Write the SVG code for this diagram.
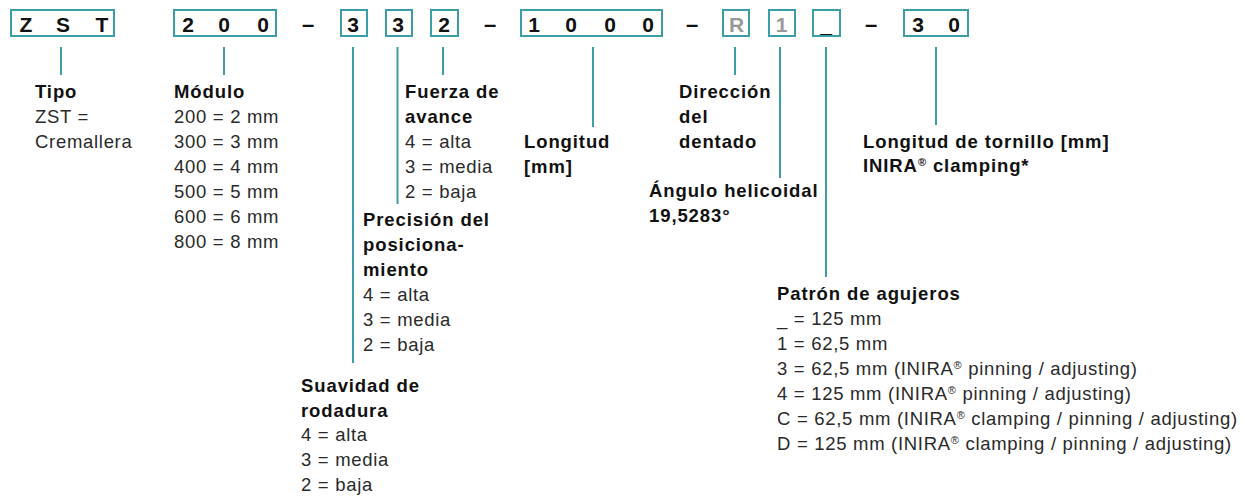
<svg xmlns="http://www.w3.org/2000/svg" width="1243" height="496" viewBox="0 0 1243 496">
<style>
.box{fill:none;stroke:#3c9ca7;stroke-width:2}
.bt{font-family:"Liberation Sans",Arial,sans-serif;font-weight:bold;font-size:21px;fill:#111;text-anchor:middle}
.grey{fill:#999}
.dash{font-size:22px}
.conn line{stroke:#3c9ca7;stroke-width:2}
.h{font-family:"Liberation Sans",Arial,sans-serif;font-weight:bold;font-size:18.5px;fill:#111;letter-spacing:0.9px}
.t{font-family:"Liberation Sans",Arial,sans-serif;font-size:18.5px;fill:#2a2a2a;letter-spacing:0.7px}
.sup{font-size:11px}
</style>
<rect width="1243" height="496" fill="#fff"/>
<g id="code">
  <g id="box-zst"><rect class="box" x="11" y="10" width="103" height="26"/>
    <text class="bt" x="26" y="32">Z</text><text class="bt" x="63" y="32">S</text><text class="bt" x="102" y="32">T</text></g>
  <g id="box-200"><rect class="box" x="174" y="10" width="102" height="26"/>
    <text class="bt" x="188" y="32">2</text><text class="bt" x="224" y="32">0</text><text class="bt" x="263" y="32">0</text></g>
  <text class="bt dash" x="308" y="32">–</text>
  <g id="box-3a"><rect class="box" x="341" y="10" width="26" height="26"/><text class="bt" x="353" y="32">3</text></g>
  <g id="box-3b"><rect class="box" x="386" y="10" width="26" height="26"/><text class="bt" x="398" y="32">3</text></g>
  <g id="box-2"><rect class="box" x="431" y="10" width="27" height="26"/><text class="bt" x="444" y="32">2</text></g>
  <text class="bt dash" x="490" y="32">–</text>
  <g id="box-1000"><rect class="box" x="521" y="10" width="141" height="26"/>
    <text class="bt" x="534" y="32">1</text><text class="bt" x="571" y="32">0</text><text class="bt" x="610" y="32">0</text><text class="bt" x="648" y="32">0</text></g>
  <text class="bt dash" x="692" y="32">–</text>
  <g id="box-r"><rect class="box" x="723" y="10" width="26" height="26"/><text class="bt grey" x="736.5" y="32">R</text></g>
  <g id="box-1"><rect class="box" x="769" y="10" width="26" height="26"/><text class="bt grey" x="781.5" y="32">1</text></g>
  <g id="box-us"><rect class="box" x="813" y="10" width="27" height="26"/><text class="bt" x="826" y="32">_</text></g>
  <text class="bt dash" x="871" y="32">–</text>
  <g id="box-30"><rect class="box" x="904" y="10" width="64" height="26"/>
    <text class="bt" x="918" y="32">3</text><text class="bt" x="954" y="32">0</text></g>
</g>
<g id="connectors" class="conn">
  <line x1="61" y1="47" x2="61" y2="75"/>
  <line x1="224" y1="47" x2="224" y2="75"/>
  <line x1="353" y1="47" x2="353" y2="363"/>
  <line x1="397.5" y1="47" x2="397.5" y2="204"/>
  <line x1="443" y1="47" x2="443" y2="75"/>
  <line x1="593" y1="47" x2="593" y2="127"/>
  <line x1="735" y1="47" x2="735" y2="75"/>
  <line x1="780" y1="47" x2="780" y2="178"/>
  <line x1="826" y1="47" x2="826" y2="277"/>
  <line x1="936" y1="47" x2="936" y2="125"/>
</g>
<g id="tipo">
  <text class="h" x="35" y="97.5">Tipo</text>
  <text class="t" x="35" y="122.5">ZST =</text>
  <text class="t" x="35" y="147.5">Cremallera</text>
</g>
<g id="modulo">
  <text class="h" x="174" y="97.5">Módulo</text>
  <text class="t" x="174" y="122.5">200 = 2 mm</text>
  <text class="t" x="174" y="147.5">300 = 3 mm</text>
  <text class="t" x="174" y="172.5">400 = 4 mm</text>
  <text class="t" x="174" y="197.5">500 = 5 mm</text>
  <text class="t" x="174" y="222.5">600 = 6 mm</text>
  <text class="t" x="174" y="247.5">800 = 8 mm</text>
</g>
<g id="fuerza">
  <text class="h" x="405" y="97.5">Fuerza de</text>
  <text class="h" x="405" y="122.5">avance</text>
  <text class="t" x="405" y="147.5">4 = alta</text>
  <text class="t" x="405" y="172.5">3 = media</text>
  <text class="t" x="405" y="197.5">2 = baja</text>
</g>
<g id="precision">
  <text class="h" x="363" y="225.5">Precisión del</text>
  <text class="h" x="363" y="250.5">posiciona-</text>
  <text class="h" x="363" y="275.5">miento</text>
  <text class="t" x="363" y="300.5">4 = alta</text>
  <text class="t" x="363" y="325.5">3 = media</text>
  <text class="t" x="363" y="350.5">2 = baja</text>
</g>
<g id="suavidad">
  <text class="h" x="301" y="391.5">Suavidad de</text>
  <text class="h" x="301" y="416.5">rodadura</text>
  <text class="t" x="301" y="441">4 = alta</text>
  <text class="t" x="301" y="466">3 = media</text>
  <text class="t" x="301" y="491">2 = baja</text>
</g>
<g id="longitud">
  <text class="h" x="524" y="147.5">Longitud</text>
  <text class="h" x="524" y="172.5">[mm]</text>
</g>
<g id="direccion">
  <text class="h" x="679" y="97.5">Dirección</text>
  <text class="h" x="679" y="122.5">del</text>
  <text class="h" x="679" y="147.5">dentado</text>
</g>
<g id="angulo">
  <text class="h" x="649" y="197">Ángulo helicoidal</text>
  <text class="h" x="649" y="222">19,5283°</text>
</g>
<g id="tornillo">
  <text class="h" x="863" y="147.5">Longitud de tornillo [mm]</text>
  <text class="h" x="863" y="172">INIRA<tspan class="sup" baseline-shift="super">®</tspan> clamping*</text>
</g>
<g id="patron">
  <text class="h" x="777" y="299.5">Patrón de agujeros</text>
  <text class="t" x="777" y="325">_ = 125 mm</text>
  <text class="t" x="777" y="350">1 = 62,5 mm</text>
  <text class="t" x="777" y="375">3 = 62,5 mm (INIRA<tspan class="sup" baseline-shift="super">®</tspan> pinning / adjusting)</text>
  <text class="t" x="777" y="400">4 = 125 mm (INIRA<tspan class="sup" baseline-shift="super">®</tspan> pinning / adjusting)</text>
  <text class="t" x="777" y="425">C = 62,5 mm (INIRA<tspan class="sup" baseline-shift="super">®</tspan> clamping / pinning / adjusting)</text>
  <text class="t" x="777" y="450">D = 125 mm (INIRA<tspan class="sup" baseline-shift="super">®</tspan> clamping / pinning / adjusting)</text>
</g>
</svg>
